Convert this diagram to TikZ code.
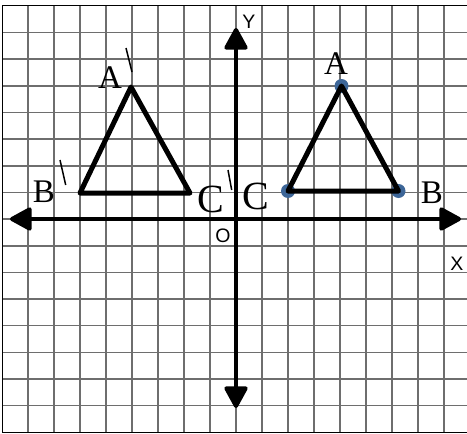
\documentclass[tikz,border=0pt]{standalone}
\usepackage{fontspec}
\setmainfont{Liberation Serif}
\newfontfamily\lsans{Liberation Sans}
\usetikzlibrary{arrows.meta}
\definecolor{gridcol}{HTML}{6E6E6E}
\definecolor{dotblue}{HTML}{3D6698}
\tikzset{
  gridline/.style={draw=gridcol, line width=1.6pt},
  border/.style={draw=black, line width=1.4pt},
  axisline/.style={line width=4pt, {Triangle[length=24pt,width=25pt,round]}-{Triangle[length=24pt,width=25pt,round]}},
  axisone/.style={line width=4pt, -{Triangle[length=24pt,width=25pt,round]}},
  tri/.style={line width=5pt, line join=round},
  vdot/.style={fill=dotblue},
  serifl/.style={inner sep=0pt, font=\fontsize{33}{33}\selectfont},
  serifc/.style={inner sep=0pt, font=\fontsize{40}{40}\selectfont},
  sansl/.style={inner sep=0pt, font=\lsans\fontsize{19.5}{19.5}\selectfont},
  primemark/.style={line width=1.5pt},
}
\begin{document}
\begin{tikzpicture}[x=1pt,y=-1pt]
\useasboundingbox (0,0) rectangle (467,434);
\begin{scope}
\clip (0,0) rectangle (467,434);
% grid
\foreach \gx in {28,54,80,106,132,158,184,210,236,262,288,314,340,366,392,418,444} {
  \draw[gridline] (\gx,5.7) -- (\gx,432.3);
}
\foreach \gy in {32.3,59,85.7,112.4,139,165.7,192.3,219,245.7,272.3,299,325.6,352.3,379,405.6} {
  \draw[gridline] (2.3,\gy) -- (470,\gy);
}
\draw[border] (470,5.7) -- (2.3,5.7) -- (2.3,432.3) -- (470,432.3);
\end{scope}
% axes
\coordinate (xl) at (10,219);
\coordinate (xr) at (461,219);
\coordinate (o) at (236,219);
\coordinate (yt) at (236,28);
\coordinate (yb) at (236,408);
\draw[axisline] (xl) -- (xr);
\draw[axisone] (o) -- (yt);
\draw[axisone] (o) -- (yb);
% left triangle A'B'C'
\coordinate (Ap) at (131,87);
\coordinate (Bp) at (80,193);
\coordinate (Cp) at (190,193);
\draw[tri] (Ap) -- (Bp) -- (Cp) -- cycle;
% right triangle ABC
\coordinate (A) at (341.5,86);
\coordinate (C) at (288,191);
\coordinate (B) at (398.5,191);
\fill[vdot] (A) circle (7);
\fill[vdot] (B) circle (7);
\fill[vdot] (C) circle (7);
\draw[tri] (A) -- (C) -- (B) -- cycle;
% labels
\node[serifl] (lAp) at (110,78) {A};
\node[serifl] (lBp) at (44,192) {B};
\node[serifc] (lCp) at (211,199) {C};
\node[serifc] (lC) at (255.5,196) {C};
\node[serifl] (lA) at (336,64) {A};
\node[serifl] (lB) at (432,193) {B};
\node[sansl] (lY) at (249,22) {Y};
\node[sansl] (lX) at (457,264) {X};
\node[sansl] (lO) at (223,236) {O};
% prime marks
\coordinate (pa1) at (126,48); \coordinate (pa2) at (132,72);
\coordinate (pb1) at (60,160); \coordinate (pb2) at (65.7,185);
\coordinate (pc1) at (228,170); \coordinate (pc2) at (231.7,190);
\draw[primemark] (pa1) -- (pa2);
\draw[primemark] (pb1) -- (pb2);
\draw[primemark] (pc1) -- (pc2);
\end{tikzpicture}
\end{document}
